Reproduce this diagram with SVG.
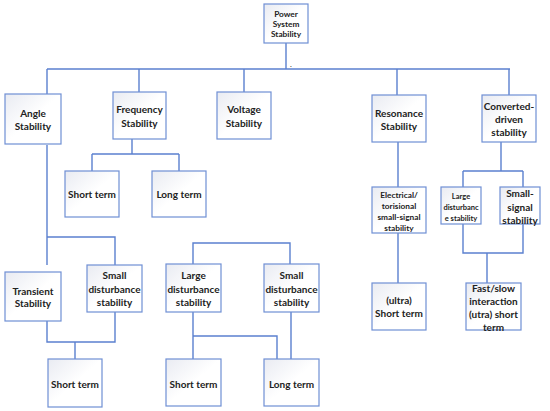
<svg xmlns="http://www.w3.org/2000/svg" width="550" height="411" viewBox="0 0 550 411">
<defs>
<linearGradient id="g" x1="0" y1="0" x2="1" y2="1">
<stop offset="0" stop-color="#e9ebf2"/>
<stop offset="0.5" stop-color="#ffffff"/>
<stop offset="1" stop-color="#ffffff"/>
</linearGradient>
<style>
.b{fill:url(#g);stroke:#6f8fd4;stroke-width:1.2}
.c{fill:none;stroke:#5b80cf;stroke-width:1.4}
text{font-family:Lato,"Open Sans","Liberation Sans",sans-serif;font-weight:bold;fill:#222;text-anchor:middle;dominant-baseline:central}
.t{font-size:10px}
.s{font-size:8.3px}
.x{font-size:7.5px;font-weight:normal}
</style>
</defs>
<rect width="550" height="411" fill="#fff"/>
<g id="connectors" class="c">
<path d="M286 43V69M47 69H510M47 69V94M139 69V92M244 69V92M397 69V95M509 69V95"/>
<path d="M132 139V154M92 154H179M92 154V171M179 154V171"/>
<path d="M47 145V265M47 237H115V265"/>
<path d="M47 321V342H115V312M75 342V359"/>
<path d="M193 264V243H290V264"/>
<path d="M193 312V359M193 336H277V359M291 312V359"/>
<path d="M398 142V187M398 233V283"/>
<path d="M501 142V171M463 171H523M463 171V187M523 171V187"/>
<path d="M463 224V253H523V224M487 253V283"/>
</g>
<text x="291" y="64" class="x" fill="#5b80cf">.</text>
<g id="n-power"><rect class="b" x="264" y="4" width="44" height="39"/><text class="s" x="286" y="14">Power</text><text class="s" x="286" y="24">System</text><text class="s" x="286" y="34">Stability</text></g>
<g id="n-angle"><rect class="b" x="5" y="94" width="56" height="50"/><text class="t" x="33" y="113">Angle</text><text class="t" x="33" y="126">Stability</text></g>
<g id="n-freq"><rect class="b" x="113" y="92" width="53" height="47"/><text class="t" x="139.5" y="109">Frequency</text><text class="t" x="139.5" y="123">Stability</text></g>
<g id="n-volt"><rect class="b" x="217" y="92" width="54" height="47"/><text class="t" x="244" y="109">Voltage</text><text class="t" x="244" y="123">Stability</text></g>
<g id="n-res"><rect class="b" x="372" y="95" width="54" height="47"/><text class="t" x="399" y="113">Resonance</text><text class="t" x="399" y="126">Stability</text></g>
<g id="n-conv"><rect class="b" x="482" y="95" width="54" height="47"/><text class="t" x="509" y="106">Converted-</text><text class="t" x="509" y="119">driven</text><text class="t" x="509" y="132">stability</text></g>
<g id="n-fshort"><rect class="b" x="65" y="171" width="54" height="46"/><text class="t" x="92" y="194">Short term</text></g>
<g id="n-flong"><rect class="b" x="152" y="171" width="54" height="46"/><text class="t" x="179" y="194">Long term</text></g>
<g id="n-trans"><rect class="b" x="5" y="272" width="56" height="49"/><text class="t" x="33" y="291">Transient</text><text class="t" x="33" y="303">Stability</text></g>
<g id="n-asmall"><rect class="b" x="87" y="265" width="55" height="47"/><text class="t" x="114.5" y="275">Small</text><text class="t" x="114.5" y="289">disturbance</text><text class="t" x="114.5" y="302">stability</text></g>
<g id="n-ashort"><rect class="b" x="48" y="359" width="54" height="48"/><text class="t" x="75" y="384">Short term</text></g>
<g id="n-vlarge"><rect class="b" x="166" y="264" width="55" height="48"/><text class="t" x="193.5" y="275">Large</text><text class="t" x="193.5" y="289">disturbance</text><text class="t" x="193.5" y="302">stability</text></g>
<g id="n-vsmall"><rect class="b" x="264" y="264" width="55" height="48"/><text class="t" x="291.5" y="275">Small</text><text class="t" x="291.5" y="289">disturbance</text><text class="t" x="291.5" y="302">stability</text></g>
<g id="n-vshort"><rect class="b" x="166" y="359" width="55" height="47"/><text class="t" x="193.5" y="384">Short term</text></g>
<g id="n-vlong"><rect class="b" x="264" y="359" width="55" height="47"/><text class="t" x="291.5" y="384">Long term</text></g>
<g id="n-elec"><rect class="b" x="372" y="187" width="54" height="46"/><text class="s" x="399" y="195">Electrical/</text><text class="s" x="399" y="206">torisional</text><text class="s" x="399" y="217">small-signal</text><text class="s" x="399" y="228">stability</text></g>
<g id="n-ultra"><rect class="b" x="372" y="283" width="54" height="47"/><text class="t" x="399" y="300">(ultra)</text><text class="t" x="399" y="313">Short term</text></g>
<g id="n-clarge"><rect class="b" x="441" y="187" width="40" height="37"/><text class="s" x="461" y="196" style="font-size:7.5px">Large</text><text class="s" x="461" y="207" style="font-size:7.5px">disturbanc</text><text class="s" x="461" y="218" style="font-size:7.5px">e stability</text></g>
<g id="n-csmall"><rect class="b" x="500" y="187" width="40" height="37"/><text class="t" x="520" y="193">Small-</text><text class="t" x="520" y="207">signal</text><text class="t" x="520" y="220">stability</text></g>
<g id="n-fast"><rect class="b" x="466" y="283" width="55" height="47"/><text class="t" x="493.5" y="288">Fast/slow</text><text class="t" x="493.5" y="301">interaction</text><text class="t" x="493.5" y="314">(utra) short</text><text class="t" x="493.5" y="327">term</text></g>
</svg>
